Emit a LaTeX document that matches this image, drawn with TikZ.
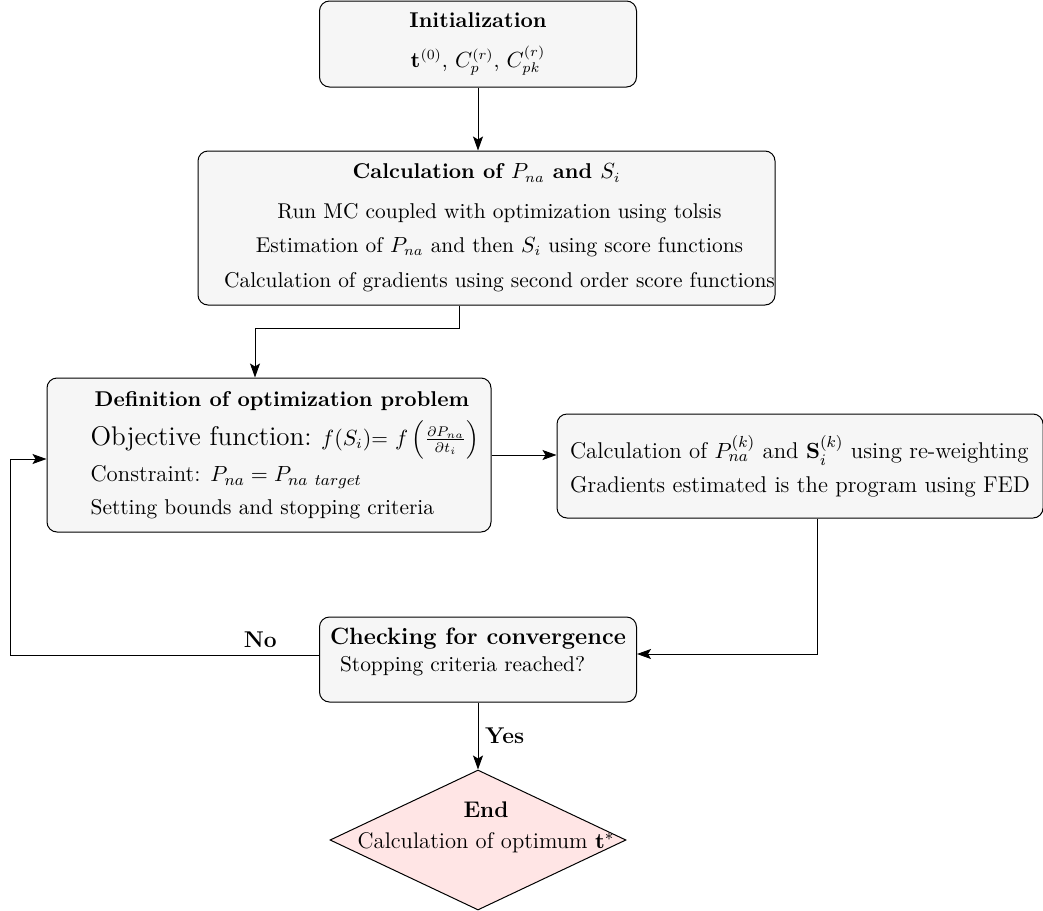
\documentclass[tikz,border=0pt]{standalone}
\usepackage{amsmath, amssymb}
\usepackage{tikz}
\usetikzlibrary{positioning, shapes.geometric, arrows.meta, calc}

\tikzset{
  box/.style={draw, rounded corners=5pt, fill=gray!7},
  endbox/.style={draw, diamond, fill=red!10, inner sep=0pt, minimum width=148pt, minimum height=70pt},
}

\begin{document}
\begin{tikzpicture}[>={Stealth[length=7pt,width=5pt,inset=1.5pt]}, x=0.5pt, y=-0.5pt, line width=0.5pt,
                    font=\fontsize{10.7}{12.8}\selectfont]
        \useasboundingbox (0,0) rectangle (1043,910);

        % Nodes
        \node [box, minimum width=158.5pt, minimum height=43pt, align=center] (init) at (478,44)
              {\textbf{Initialization}\\[7pt] $\mathbf{t}^{(0)}$, $C_p^{(r)}$, $C_{pk}^{(r)}$};
        \node [box, minimum width=288.5pt, minimum height=77pt, inner sep=0pt, align=center] (calc) at (486.5,228)
              {\textbf{Calculation of $P_{na}$ and $S_i$}\\[7pt]
               \hspace*{13pt}Run MC coupled with optimization using tolsis\\[4pt]
               \hspace*{13pt}Estimation of $P_{na}$ and then $S_i$ using score functions\\[5pt]
               \hspace*{13pt}Calculation of gradients using second order score functions};
        \node [box, minimum width=222pt, minimum height=77pt, inner sep=0pt, align=left] (def) at (269,455)
              {\hspace*{18pt}\textbf{Definition of optimization problem}\\[4pt]
               \hspace*{16pt}{\fontsize{13.5}{16}\selectfont Objective function:} $f(S_i)$= $f\left(\frac{\partial P_{na}}{\partial t_i}\right)$\\[2.5pt]
               \hspace*{16pt}{\fontsize{11.4}{13.5}\selectfont Constraint: $P_{na} = P_{na~target}$}\\[3.5pt]
               \hspace*{16pt}Setting bounds and stopping criteria};
        \node [box, minimum width=243pt, minimum height=52pt, inner sep=2pt, align=left,
               font=\fontsize{11.4}{13.7}\selectfont] (calck) at (800,466)
              {Calculation of $P_{na}^{(k)}$ and $\mathbf{S}_i^{(k)}$ using re-weighting\\[3pt]
               Gradients estimated is the program using FED};
        \node [box, minimum width=158.5pt, minimum height=42.5pt, inner sep=2pt, align=left] (check) at (478,659.5)
              {{\fontsize{11.8}{14}\selectfont\textbf{Checking for convergence}}\\[1pt]
               \hspace{5pt}Stopping criteria reached?\\[-3pt]};
        \node [endbox] (end) at (478,840) {};
        \node [align=center, font=\fontsize{11.3}{13.5}\selectfont] (endtxt) at (486,827)
              {\textbf{End}\\[2pt] Calculation of optimum $\mathbf{t}^*$};
        \coordinate (nocorner) at (10,655);

        % Edges
        \draw[->] (init) -- (init |- calc.north);
        \draw[->] ([xshift=-13.5pt]calc.south) -- ++(0,23) -| ([xshift=-7pt]def.north);
        \draw[->] (def.east) -- (def.east -| calck.west);
        \draw[->] ([xshift=8.5pt]calck.south) |- ([yshift=2.75pt]check.east);
        \draw[->] ([yshift=2.25pt]check.west) -- node[above, pos=0.19, font=\fontsize{11.4}{13}\bfseries] {No} (nocorner)
                  |- ([yshift=-2pt]def.west);
        \draw[->] (check) -- node[right, font=\fontsize{11.4}{13}\bfseries] {Yes} (end);

      \end{tikzpicture}
\end{document}
